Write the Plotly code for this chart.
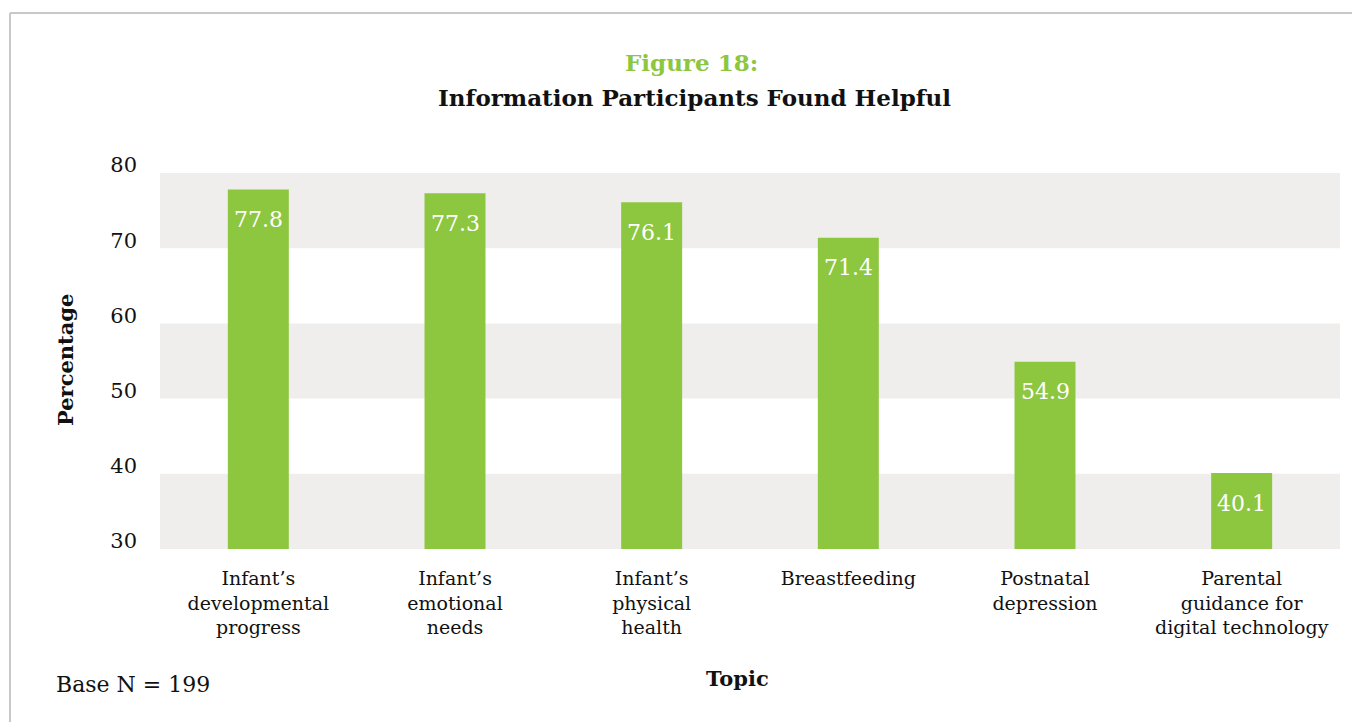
import plotly.graph_objects as go

categories = ["Infant’s<br>developmental<br>progress", "Infant’s<br>emotional<br>needs",
              "Infant’s<br>physical<br>health", "Breastfeeding", "Postnatal<br>depression",
              "Parental<br>guidance for<br>digital technology"]
values = [77.8, 77.3, 76.1, 71.4, 54.9, 40.1]
value_labels = ["77.8", "77.3", "76.1", "71.4", "54.9", "40.1"]
y_ticks = [30, 40, 50, 60, 70, 80]
bands = [(30, 40), (50, 60), (70, 80)]

FONT = "DejaVu Serif"
GREEN = "#8dc63f"
OFF = 8  # default page body margin
W, H = 1360 - OFF, 722 - OFF

fig = go.Figure()
fig.add_trace(go.Bar(
    x=categories, y=values,
    marker=dict(color=GREEN, line=dict(width=0)),
    hoverinfo="skip"
))

shapes = []
for y0, y1 in bands:
    shapes.append(dict(type="rect", xref="paper", yref="y", x0=0, x1=1, y0=y0, y1=y1,
                       fillcolor="#efeeec", line=dict(width=0), layer="below"))

# plot area in page pixels: x 160..1340, y 173..549
ml, mt = 160 - OFF, 173 - OFF
mr = W - (1340 - OFF)
mb = H - (549 - OFF)
pw = W - ml - mr
ph = H - mt - mb

def px_x(x):
    return (x - OFF - ml) / pw

def px_y(y):
    return (H - mb - (y - OFF)) / ph

# border lines (top and left)
shapes.append(dict(type="line", xref="paper", yref="paper",
                   x0=px_x(10), x1=px_x(1375), y0=px_y(13), y1=px_y(13),
                   line=dict(color="#c8c8c8", width=2)))
shapes.append(dict(type="line", xref="paper", yref="paper",
                   x0=px_x(10), x1=px_x(10), y0=px_y(13), y1=px_y(740),
                   line=dict(color="#c8c8c8", width=2)))

annotations = [
    dict(text="<b>Figure 18:</b>", xref="paper", yref="paper", x=px_x(691), y=px_y(63),
         showarrow=False, font=dict(family=FONT, size=23, color=GREEN), xanchor="center", yanchor="middle"),
    dict(text="<b>Information Participants Found Helpful</b>", xref="paper", yref="paper",
         x=px_x(694), y=px_y(98), showarrow=False, font=dict(family=FONT, size=23, color="#111"),
         xanchor="center", yanchor="middle"),
    dict(text="<b>Percentage</b>", xref="paper", yref="paper", x=px_x(65), y=px_y(360),
         showarrow=False, textangle=-90, font=dict(family=FONT, size=21, color="#111"),
         xanchor="center", yanchor="middle"),
    dict(text="<b>Topic</b>", xref="paper", yref="paper", x=px_x(737), y=px_y(678),
         showarrow=False, font=dict(family=FONT, size=21, color="#111"),
         xanchor="center", yanchor="middle"),
    dict(text="Base N = 199", xref="paper", yref="paper", x=px_x(54), y=px_y(684),
         showarrow=False, font=dict(family=FONT, size=22, color="#111"),
         xanchor="left", yanchor="middle"),
]
for c, v, t in zip(categories, values, value_labels):
    annotations.append(dict(text=t, xref="x", yref="y", x=c, y=v, yshift=-30,
                            showarrow=False, xanchor="center", yanchor="middle",
                            font=dict(family=FONT, size=22, color="white")))

fig.update_layout(
    width=W, height=H,
    margin=dict(l=ml, r=mr, t=mt, b=mb, pad=0),
    paper_bgcolor="white", plot_bgcolor="white",
    showlegend=False, bargap=0.69,
    shapes=shapes, annotations=annotations,
    font=dict(family=FONT, size=20, color="#111"),
    xaxis=dict(showgrid=False, showline=False, zeroline=False, ticks="",
               tickfont=dict(family=FONT, size=19, color="#111"), ticklabelstandoff=16,
               fixedrange=True),
    yaxis=dict(range=[30, 80], tickvals=y_ticks, showgrid=False, showline=False, zeroline=False,
               ticks="", tickfont=dict(family=FONT, size=21, color="#111"),
               ticklabelstandoff=22, ticklabelshift=-8, fixedrange=True),
)

fig.write_html("out.html")
